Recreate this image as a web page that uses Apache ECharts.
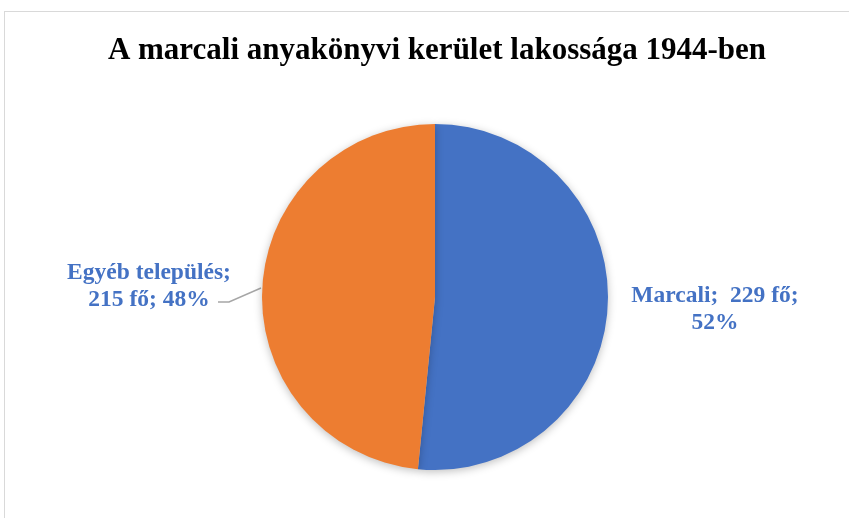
<!DOCTYPE html>
<html>
<head>
<meta charset="utf-8">
<script src="https://cdn.jsdelivr.net/npm/echarts@6/dist/echarts.min.js"></script>
<style>
  html, body { margin: 0; padding: 0; background: #fff; }
  #frame { position: absolute; left: 4px; top: 11px; width: 900px; height: 600px; border: 1px solid #d9d9d9; }
  #chart { position: absolute; left: 0; top: 0; width: 849px; height: 518px; }
</style>
</head>
<body>
<div id="frame"></div>
<div id="chart"></div>
<script>
var titleText = "A marcali anyakönyvi kerület lakossága 1944-ben";
var categories = ["Marcali", "Egyéb település"];
var people = [229, 215];
var percents = [52, 48];
var colors = ["#4472C4", "#ED7D31"];

var serif = '"Liberation Serif", "Times New Roman", serif';

var chart = echarts.init(document.getElementById("chart"));
var option = {
  animation: false,
  title: {
    text: titleText,
    left: 432,
    textAlign: "center",
    top: 30,
    textStyle: { fontFamily: serif, fontWeight: "bold", fontSize: 31, color: "#000" }
  },
  series: [
    {
      type: "pie",
      center: [435, 297],
      radius: 173,
      startAngle: 90,
      clockwise: true,
      data: categories.map(function (c, i) {
        return {
          name: c,
          value: people[i],
          itemStyle: { color: colors[i] },
          labelLine: { show: i === 1 }
        };
      }),
      itemStyle: {
        shadowBlur: 8,
        shadowColor: "rgba(0,0,0,0.25)",
        shadowOffsetY: 2
      },
      label: {
        position: "outside",
        color: "#4472C4",
        fontFamily: serif,
        fontWeight: "bold",
        fontSize: 23.5,
        lineHeight: 27,
        align: "center",
        formatter: function (p) {
          if (p.dataIndex === 0) {
            return p.name + ";  " + p.value + " fő;\n" + percents[0] + "%";
          }
          return p.name + ";\n" + p.value + " fő; " + percents[1] + "%";
        }
      },
      labelLine: {
        lineStyle: { color: "#a6a6a6", width: 1.5 }
      },
      labelLayout: function (params) {
        if (params.dataIndex === 0) {
          return { x: 715, y: 309, align: "center", verticalAlign: "middle" };
        }
        return {
          x: 149, y: 286, align: "center", verticalAlign: "middle",
          labelLinePoints: [[261, 288], [229, 302], [218, 302]]
        };
      }
    }
  ]
};
chart.setOption(option);
</script>
</body>
</html>
